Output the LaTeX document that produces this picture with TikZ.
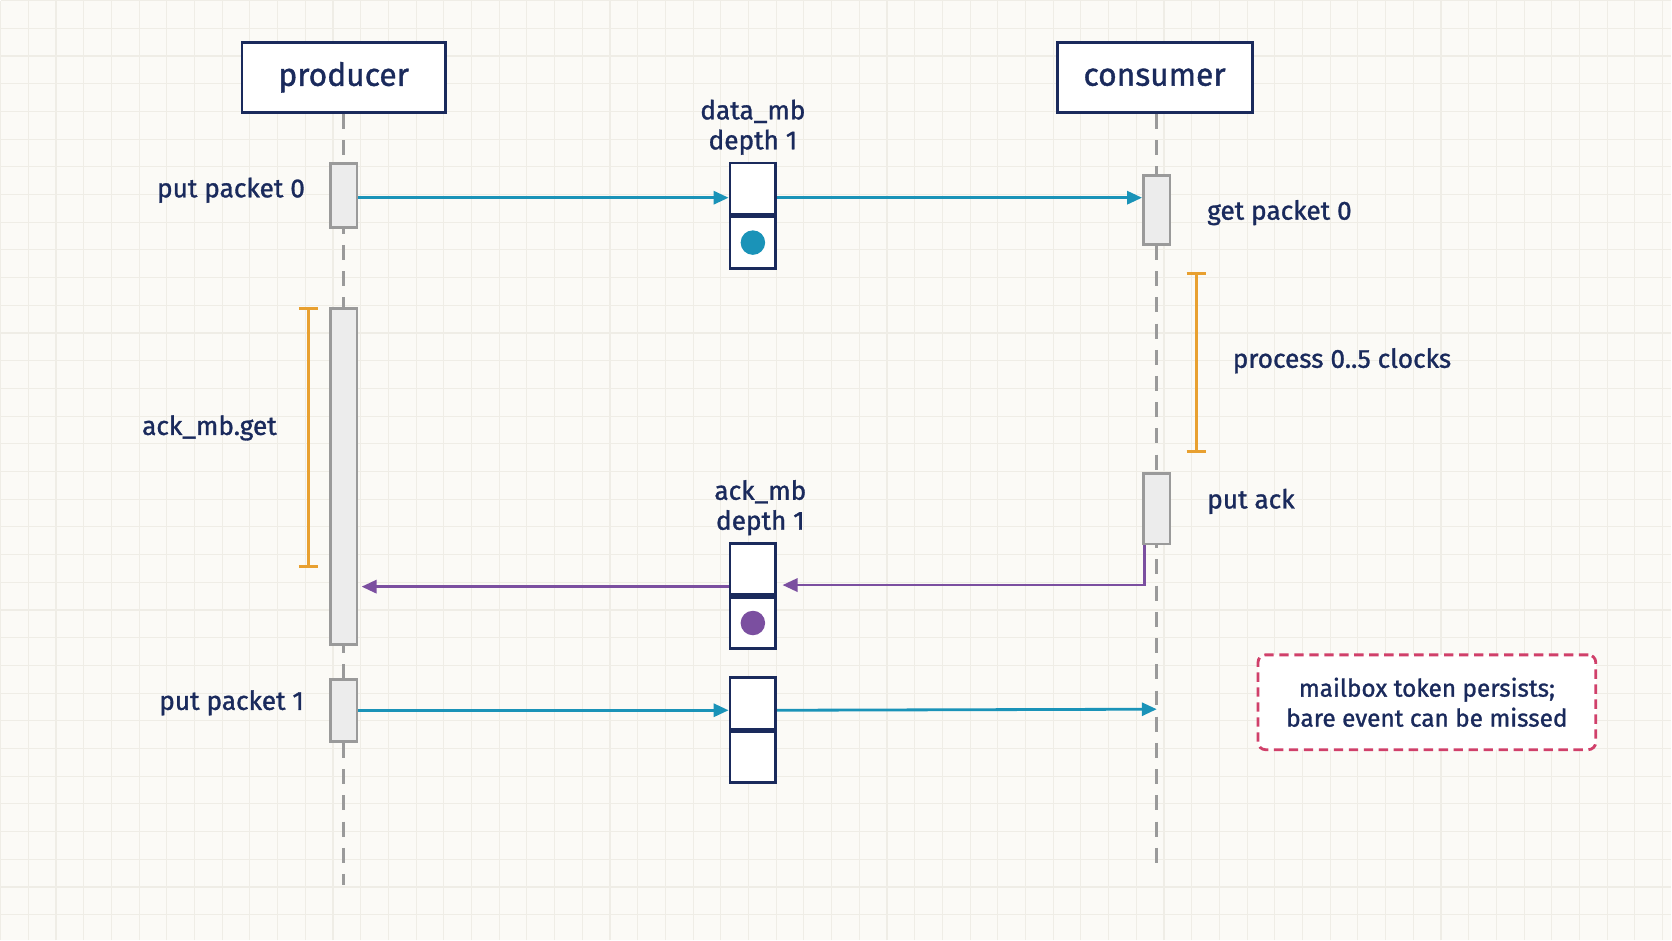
\documentclass[tikz,border=0pt]{standalone}
\usepackage{fontspec}
\setmainfont{Fira Sans}[FakeBold=1.2]
\usetikzlibrary{positioning, arrows.meta, calc}
\definecolor{ink}{HTML}{1A2A5C}
\definecolor{teal}{HTML}{1A93B8}
\definecolor{plum}{HTML}{7B4FA0}
\definecolor{amber}{HTML}{E8A030}
\definecolor{rose}{HTML}{D0406A}
\definecolor{paper}{HTML}{FBFAF6}
\definecolor{gridc}{HTML}{EFEDE6}
\definecolor{lifec}{HTML}{9A9A9A}
\begin{document}
\begin{tikzpicture}[x=0.02cm, y=-0.02cm, >={Triangle[length=8pt,width=7pt]}, semithick,
	font=\fontsize{14}{16}\selectfont\color{ink}]
	
	\tikzstyle{actor}=[draw=ink, line width=1.5pt, fill=white, minimum width=3.82cm, minimum height=1.32cm, font=\fontsize{17}{20}\selectfont\color{ink}]
	\tikzstyle{life}=[lifec, line width=1.6pt, dash pattern=on 8pt off 6pt]
	\tikzstyle{bar}=[draw=lifec, fill=gray!15, line width=1.5pt]
	\tikzstyle{slot}=[draw=ink, line width=1.5pt, fill=white, minimum width=0.86cm, minimum height=0.96cm, inner sep=0pt]
	\tikzstyle{msg}=[->, teal, line width=1.5pt]
	\tikzstyle{ack}=[->, plum, line width=1.5pt]
	\tikzstyle{brace}=[amber, line width=1.5pt]
	
	% background
	\fill[paper] (0,0) rectangle (1568,882);
	\draw[gridc, step=0.52cm] (0,0) grid (1568,882);
	\useasboundingbox (0,0) rectangle (1568,882);
	
	\node[actor] (P) at (322,72) {producer};
	\node[actor, minimum width=3.66cm] (C) at (1083,72) {consumer};
	
	\coordinate (Pend) at (322,830);
	\coordinate (Cend) at (1085,815);
	\draw[life] (P.south) -- (Pend);
	\draw[life] (C.south -| Cend) -- (Cend);
	
	% activation bars
	\node[bar, minimum width=0.5cm, minimum height=1.2cm, inner sep=0pt] (p0) at (322,183) {};
	\node[bar, minimum width=0.5cm, minimum height=6.3cm, inner sep=0pt] (pwait) at (322,446.5) {};
	\node[bar, minimum width=0.5cm, minimum height=1.16cm, inner sep=0pt] (p1) at (322,666) {};
	\node[bar, minimum width=0.5cm, minimum height=1.3cm, inner sep=0pt] (c0) at (1085,196.5) {};
	\node[bar, minimum width=0.5cm, minimum height=1.32cm, inner sep=0pt] (c1) at (1085,477) {};
	
	% mailboxes
	\node[slot] (dtop) at (706,176.5) {};
	\node[slot, below=0pt of dtop] (dbot) {};
	\node[slot] (atop) at (706,533.5) {};
	\node[slot, below=0pt of atop] (abot) {};
	\node[slot] (ntop) at (706,659.5) {};
	\node[slot, below=0pt of ntop] (nbot) {};
	\fill[teal] (dbot) circle (0.23cm);
	\fill[plum] (abot) circle (0.23cm);
	\node[align=center, above=0pt of dtop] (dlab) {data\_mb\\depth 1};
	\node[align=center, above=0pt of atop, xshift=0.14cm] (alab) {ack\_mb\\depth 1};
	
	% messages
	\draw[msg] (p0.east |- 0,185) -- (dtop.west |- 0,185);
	\draw[msg] (dtop.east |- 0,185) -- (c0.west |- 0,185);
	\draw[ack] (c1.south west) ++(2,0) |- ($(atop.east)+(5,15)$);
	\draw[ack] (atop.west |- 0,550) -- ($(pwait.east |- 0,550)+(3,0)$);
	\coordinate (Cin) at (1085,665);
	\draw[msg] (p1.east |- 0,666) -- (ntop.west |- 0,666);
	\draw[msg] (ntop.east |- 0,666) -- (Cin);
	
	% waiting spans
	\draw[brace] (280,289) -- (298,289) (289,289) -- (289,531) (280,531) -- (298,531);
	\draw[brace] (1113,256) -- (1131,256) (1122,256) -- (1122,423) (1113,423) -- (1131,423);
	
	% labels
	\node[anchor=east] (l0) at (292,178) {put packet 0};
	\node[anchor=east] (l1) at (291,659) {put packet 1};
	\node (lget) at (196,401) {ack\_mb.get};
	\node[anchor=west] (g0) at (1126,199) {get packet 0};
	\node[anchor=west] (proc) at (1150,338) {process 0..5 clocks};
	\node[anchor=west] (pa) at (1126,470) {put ack};
	
	\node[draw=rose, line width=1.5pt, dash pattern=on 5pt off 3pt, rounded corners=4pt, fill=white, align=center,
		minimum width=6.34cm, minimum height=1.78cm, font=\fontsize{13}{16}\selectfont\color{ink}] (note) at (1338.5,658.5)
		{mailbox token persists;\\bare event can be missed};
	
\end{tikzpicture}
\end{document}
